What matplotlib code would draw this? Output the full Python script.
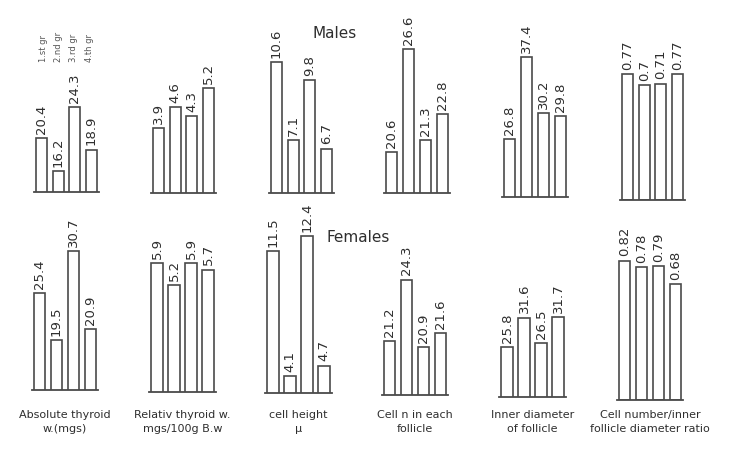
import matplotlib
matplotlib.use("Agg")
from matplotlib import pyplot as plt

# group order inside each panel: 1st, 2nd, 3rd, 4th group
groups = ['1.st gr', '2.nd gr', '3.rd gr', '4.th gr']

categories = ['Absolute thyroid\nw.(mgs)',
              'Relativ thyroid w.\nmgs/100g B.w',
              'cell height\n\u00b5',
              'Cell n in each\nfollicle',
              'Inner diameter\nof follicle',
              'Cell number/inner\nfollicle diameter ratio']

males = [[20.4, 16.2, 24.3, 18.9],
         [3.9, 4.6, 4.3, 5.2],
         [10.6, 7.1, 9.8, 6.7],
         [20.6, 26.6, 21.3, 22.8],
         [26.8, 37.4, 30.2, 29.8],
         [0.77, 0.7, 0.71, 0.77]]

females = [[25.4, 19.5, 30.7, 20.9],
           [5.9, 5.2, 5.9, 5.7],
           [11.5, 4.1, 12.4, 4.7],
           [21.2, 24.3, 20.9, 21.6],
           [25.8, 31.6, 26.5, 31.7],
           [0.82, 0.78, 0.79, 0.68]]

# each little chart was drawn on its own (truncated) scale
males_ylim = [(13.48, 32.68), (1.81, 6.66), (4.7, 11.46),
              (18.23, 26.93), (19.39, 38.72), (0.0, 0.915)]
females_ylim = [(13.23, 33.33), (1.80, 6.90), (3.07, 12.6),
                (18.49, 26.55), (15.83, 47.6), (0.0, 0.941)]

W, H = 729, 454
fig = plt.figure(figsize=(W / 100, H / 100), dpi=100, facecolor='white')

edge = '#4a4a4a'
txt = '#2e2e2e'


def panel(cx, base, h, ppu, vals, ylim):
    w = 3.9 * ppu
    ax = fig.add_axes([(cx - w / 2) / W, (H - base) / H, w / W, h / H])
    ax.bar(range(4), vals, width=0.66, color='white', edgecolor=edge, linewidth=1.2)
    ax.set_xlim(-0.45, 3.45)
    ax.set_ylim(*ylim)
    for s in ['top', 'right', 'left']:
        ax.spines[s].set_visible(False)
    ax.spines['bottom'].set_color(edge)
    ax.spines['bottom'].set_linewidth(1.3)
    ax.set_xticks([])
    ax.set_yticks([])
    ax.patch.set_alpha(0)
    for i, v in enumerate(vals):
        ax.annotate(f'{v:g}', (i, v), xytext=(0, 3), textcoords='offset points',
                    rotation=90, ha='center', va='bottom', fontsize=9.5,
                    color=txt, annotation_clip=False)
    return ax


top_cx = [66.5, 183.5, 301.5, 417, 535, 652.5]
top_base = [192, 193, 193, 193, 197, 200]
bot_cx = [65, 182.5, 298.5, 415, 532.5, 650]
bot_base = [390, 392, 393, 395, 397, 400]

for k in range(6):
    panel(top_cx[k], top_base[k], 150, 16.7, males[k], males_ylim[k])
    panel(bot_cx[k], bot_base[k], 160, 17.0, females[k], females_ylim[k])

# category labels under the female row
for k, cat in enumerate(categories):
    fig.text(bot_cx[k] / W, (H - 410) / H, cat, ha='center', va='top',
             fontsize=8, color=txt, linespacing=1.5)

fig.text(335 / W, (H - 33) / H, 'Males', ha='center', va='center',
         fontsize=11, color=txt)
fig.text(358 / W, (H - 237) / H, 'Females', ha='center', va='center',
         fontsize=11, color=txt)

# small vertical group key in the top left corner
for j, g in enumerate(groups):
    fig.text((43 + j * 15.5) / W, (H - 62) / H, g, rotation=90, ha='center',
             va='bottom', fontsize=6, color='#555555')

plt.savefig('out.png', dpi=100, facecolor='white')
